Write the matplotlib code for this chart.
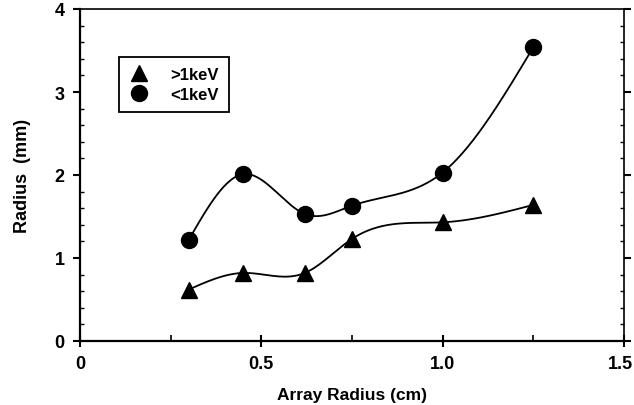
import numpy as np
import matplotlib
matplotlib.use("Agg")
import matplotlib.pyplot as plt
import matplotlib.transforms as mtransforms
from matplotlib.ticker import MultipleLocator, FixedLocator, FixedFormatter

plt.rcParams['font.family'] = ['Liberation Sans', 'DejaVu Sans']
plt.rcParams['font.weight'] = 'bold'

x_gt = [0.30, 0.45, 0.62, 0.75, 1.00, 1.25]
y_gt = [0.62, 0.82, 0.82, 1.23, 1.43, 1.64]
x_lt = [0.30, 0.45, 0.62, 0.75, 1.00, 1.25]
y_lt = [1.22, 2.01, 1.53, 1.63, 2.03, 3.54]
label_gt = ">1keV"
label_lt = "<1keV"
xticks = [0, 0.5, 1.0, 1.5]
xticklabels = ["0", "0.5", "1.0", "1.5"]
yticks = [0, 1, 2, 3, 4]


def natural_spline(x, y, n=200):
    x = np.asarray(x, float); y = np.asarray(y, float)
    m = len(x)
    h = np.diff(x)
    A = np.zeros((m, m)); b = np.zeros(m)
    A[0, 0] = A[-1, -1] = 1
    for i in range(1, m - 1):
        A[i, i - 1] = h[i - 1]
        A[i, i] = 2 * (h[i - 1] + h[i])
        A[i, i + 1] = h[i]
        b[i] = 3 * ((y[i + 1] - y[i]) / h[i] - (y[i] - y[i - 1]) / h[i - 1])
    c = np.linalg.solve(A, b)
    xs = np.linspace(x[0], x[-1], n)
    ys = np.empty_like(xs)
    for k, xv in enumerate(xs):
        i = min(np.searchsorted(x, xv, side='right') - 1, m - 2)
        dx = xv - x[i]
        bb = (y[i + 1] - y[i]) / h[i] - h[i] * (c[i + 1] + 2 * c[i]) / 3
        d = (c[i + 1] - c[i]) / (3 * h[i])
        ys[k] = y[i] + bb * dx + c[i] * dx ** 2 + d * dx ** 3
    return xs, ys


fig = plt.figure(figsize=(6.34, 4.06), dpi=100)
ax = fig.add_axes([80 / 634, 1 - 342 / 406, 544 / 634, 332 / 406])

for xv, yv, mk, ms, lab in [(x_gt, y_gt, '^', 12, label_gt), (x_lt, y_lt, 'o', 11.5, label_lt)]:
    xs, ys = natural_spline(xv, yv)
    ax.plot(xs, ys, color='black', lw=1.3, zorder=2)
    ax.plot(xv, yv, linestyle='none', marker=mk, color='black',
            markersize=ms, zorder=3, label=lab)

ax.set_xlim(0, 1.5)
ax.set_ylim(0, 4)
ax.xaxis.set_major_locator(FixedLocator(xticks))
ax.xaxis.set_major_formatter(FixedFormatter(xticklabels))
ax.xaxis.set_minor_locator(MultipleLocator(0.25))
ax.yaxis.set_major_locator(FixedLocator(yticks))
ax.yaxis.set_minor_locator(MultipleLocator(0.2))

ax.tick_params(axis='x', which='major', direction='inout', length=8, width=1.5,
               labelsize=13, pad=6)
ax.tick_params(axis='x', which='minor', direction='in', length=4, width=1.2)
ax.tick_params(axis='y', which='major', direction='out', length=5, width=1.5,
               labelsize=13, right=True, pad=6)
ax.tick_params(axis='y', which='minor', direction='in', length=3, width=1, right=True)
for lab in ax.get_xticklabels() + ax.get_yticklabels():
    lab.set_fontweight('bold')

fig.canvas.draw()
last = ax.get_xticklabels()[-1]
last.set_horizontalalignment('right')
last.set_transform(last.get_transform() +
                   mtransforms.ScaledTranslation(9 / 100, 0, fig.dpi_scale_trans))

for side in ['left', 'bottom', 'right', 'top']:
    ax.spines[side].set_linewidth(1.6 if side in ('left', 'bottom') else 1.2)

ax.set_xlabel("Array Radius (cm)", fontsize=12.5, fontweight='bold', labelpad=11)
ax.set_ylabel("Radius  (mm)", fontsize=13, fontweight='bold', labelpad=17)

leg = ax.legend(loc='upper left', bbox_to_anchor=(39 / 544, 1 - 48 / 332),
                frameon=True, fancybox=False, edgecolor='black', framealpha=1,
                prop={'weight': 'bold', 'size': 12}, handletextpad=1.3,
                borderpad=0.6, labelspacing=0.3, handlelength=1.2,
                borderaxespad=0)
leg.get_frame().set_linewidth(1.3)

fig.savefig("out.png", dpi=100)
